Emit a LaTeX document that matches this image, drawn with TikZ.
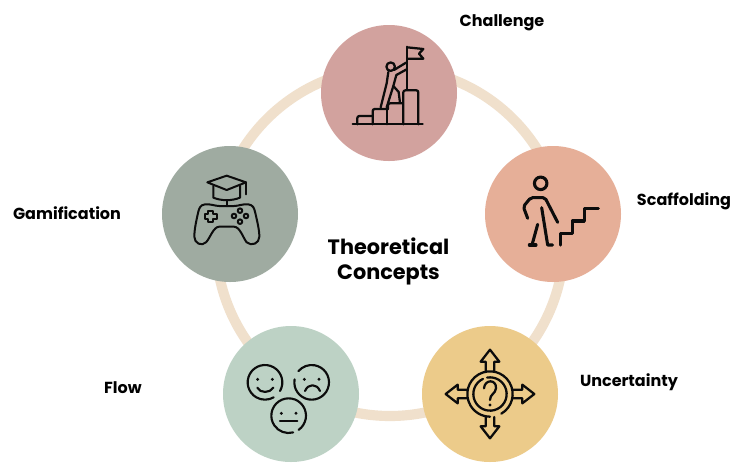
\documentclass[tikz,border=0pt]{standalone}
\usepackage{fontspec}
\usetikzlibrary{calc}
\setmainfont{Poppins}
\definecolor{ringc}{HTML}{F0E0CC}
\definecolor{cchal}{HTML}{D2A29E}
\definecolor{cscaf}{HTML}{E6AF98}
\definecolor{cunc}{HTML}{ECCB8A}
\definecolor{cflow}{HTML}{BDD2C5}
\definecolor{cgam}{HTML}{9FABA1}
\definecolor{inkc}{HTML}{0C0C0C}
\tikzset{
  disc/.style={circle,minimum size=102pt,inner sep=0pt,draw=none},
  lab/.style={font=\bfseries\fontsize{12}{14}\selectfont,text=black,inner sep=0pt},
  ttl/.style={font=\bfseries\fontsize{15.6}{18.8}\selectfont,text=black,align=center,inner sep=0pt},
  iconbase/.style={draw=inkc,line cap=round,line join=round}
}
\begin{document}
\begin{tikzpicture}[x=0.75pt,y=-0.75pt]
\useasboundingbox (0,0) rectangle (732,462);
\fill[white] (0,0) rectangle (732,462);
\draw[ringc,line width=7.6pt] (390,242) circle [radius=130.5pt];
\node[disc,fill=cchal] (chal) at (389,93) {};
\node[disc,fill=cscaf] (scaf) at (553,214) {};
\node[disc,fill=cunc] (unc) at (490,394) {};
\node[disc,fill=cflow] (flow) at (291,394) {};
\node[disc,fill=cgam] (gam) at (230,214) {};
\node[lab] (lchal) at (502,22.5) {Challenge};
\node[lab] (lscaf) at (684,201.5) {Scaffolding};
\node[lab] (lunc) at (629,382.5) {Uncertainty};
\node[lab] (lflow) at (123,387.5) {Flow};
\node[lab] (lgam) at (67,213.5) {Gamification};
\node[ttl] (title) at (388.5,261.5) {Theoretical\\Concepts};
% Challenge
\begin{scope}[shift={(320,20)},x=0.25pt,y=-0.25pt,iconbase,line width=1.7pt]
\draw (98,313) -- (308,313);
\draw[rounded corners=1.5pt] (112,313) -- (112,288) -- (157,288);
\draw[rounded corners=1.5pt] (158,313) -- (158,267) -- (204,267);
\draw (202,313) -- (202,267);
\draw[rounded corners=1.5pt] (204,267) -- (204,250) -- (248,250);
\draw (248,250) -- (248,290);
\draw[rounded corners=1.5pt] (250,313) -- (250,211) -- (295,211) -- (295,313);
\draw (260,80) -- (260,210);
\draw (262,82) -- (310,87) -- (297,101) -- (310,116) -- (262,116);
\draw (212,140) circle [radius=3.2pt];
\draw (222,150) -- (258,128);
\draw (229,165) -- (260,148);
\draw (205,156) -- (200,190) -- (182,262);
\draw (229,165) -- (220,198) -- (236,216) -- (240,248);
\draw (220,198) -- (200,262);
\end{scope}
% Gamification
\begin{scope}[shift={(160,145)},x=0.25pt,y=-0.25pt,iconbase,line width=1.5pt]
\draw (142,112) -- (200,92) -- (258,112) -- (200,135) -- cycle;
\draw (258,112) -- (258,148);
\draw (160,122) -- (160,158) .. controls (185,168) and (215,168) .. (240,158) -- (240,122);
\draw (200,165) -- (200,183);
\draw (135,178) .. controls (150,176) and (165,183) .. (178,183) -- (222,183) .. controls (235,183) and (250,176) .. (265,178) .. controls (280,180) and (282,190) .. (285,200) .. controls (292,230) and (298,255) .. (298,275) .. controls (298,295) and (275,305) .. (260,292) .. controls (250,280) and (240,245) .. (222,245) -- (178,245) .. controls (160,245) and (150,280) .. (138,292) .. controls (125,305) and (103,295) .. (103,275) .. controls (103,255) and (108,230) .. (115,200) .. controls (118,190) and (120,180) .. (135,178) -- cycle;
\draw (145,197) -- (160,197) -- (160,207) -- (170,207) -- (170,222) -- (160,222) -- (160,232) -- (145,232) -- (145,222) -- (135,222) -- (135,207) -- (145,207) -- cycle;
\foreach \p in {(240,197),(222,213),(258,213),(240,230)} \draw \p circle [radius=1.7pt];
\end{scope}
% Scaffolding
\begin{scope}[shift={(485,145)},x=0.25pt,y=-0.25pt,iconbase,line width=2.3pt]
\draw (167,115) circle [radius=4.7pt];
\draw[rounded corners=1.5pt] (128,220) -- (115,185) -- (137,158) -- (180,158) -- (218,232);
\draw (170,188) -- (188,300) -- (203,300);
\draw (158,238) -- (141,300);
\draw (133,300) -- (153,300);
\draw (227,300) -- (227,265) -- (262,265) -- (262,228) -- (298,228) -- (298,190) -- (340,190);
\end{scope}
% Uncertainty
\begin{scope}[shift={(420,325)},x=0.25pt,y=-0.25pt,iconbase,line width=1.7pt]
\begin{scope}[shift={(210,207)}]
\foreach \r in {0,90,180,270}{
  \draw[rotate=\r] (-13,-69) -- (-13,-97) -- (-28,-97) -- (0,-133) -- (28,-97) -- (13,-97) -- (13,-69);
}
\draw (0,0) ++(-60:17pt) arc [start angle=-60,end angle=270,radius=17pt];
\draw (0,0) ++(-75:12.5pt) arc [start angle=-75,end angle=100,radius=12.5pt];
\draw (0,0) ++(115:12.5pt) arc [start angle=115,end angle=285,radius=12.5pt];
\draw (-18,-17) .. controls (-16,-45) and (20,-45) .. (18,-17) .. controls (16,0) and (0,0) .. (0,18);
\fill[inkc] (0,33) circle [radius=1.2pt];
\end{scope}
\end{scope}
% Flow
\begin{scope}[shift={(220,325)},x=0.25pt,y=-0.25pt,iconbase,line width=1.6pt]
\draw ($(135,172)+(-30:13pt)$) arc [start angle=-30,end angle=300,radius=13pt];
\draw ($(275,172)+(170:13pt)$) arc [start angle=170,end angle=500,radius=13pt];
\draw ($(206,272)+(-55:13pt)$) arc [start angle=-55,end angle=285,radius=13pt];
\foreach \p in {(113,163),(157,163),(253,163),(297,163),(184,265),(228,265)} \fill[inkc] \p circle [radius=1.2pt];
\draw (112,188) .. controls (120,205) and (150,205) .. (160,188);
\draw (255,198) .. controls (265,175) and (290,175) .. (300,198);
\draw (180,288) -- (232,288);
\end{scope}
\end{tikzpicture}
\end{document}
